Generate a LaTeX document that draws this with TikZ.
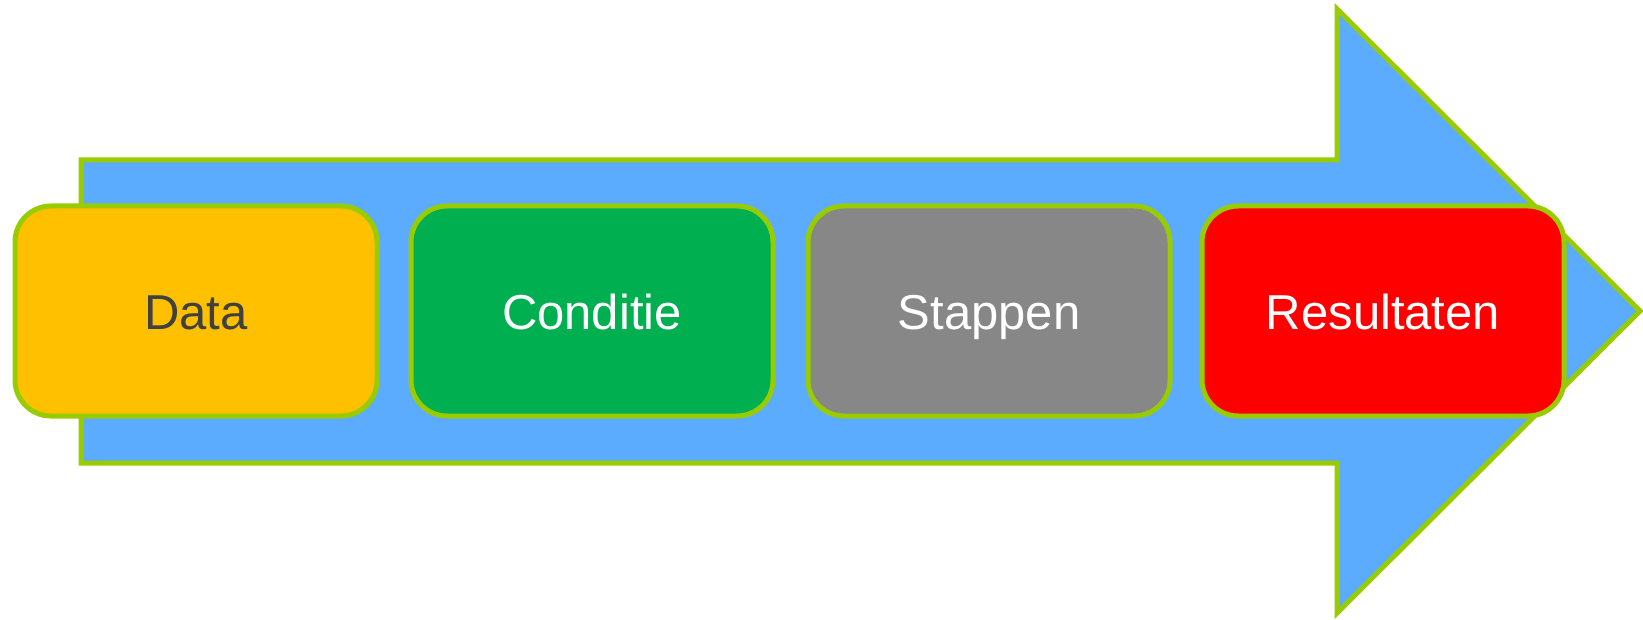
\documentclass[tikz,border=0pt]{standalone}
\usepackage{fontspec}
\setmainfont{Liberation Sans}
\definecolor{arrowblue}{RGB}{91,172,255}
\definecolor{edgegreen}{RGB}{153,204,0}
\definecolor{boxorange}{RGB}{255,192,0}
\definecolor{boxgreen}{RGB}{0,176,80}
\definecolor{boxgray}{RGB}{135,135,135}
\definecolor{boxred}{RGB}{255,0,0}
\definecolor{darktext}{RGB}{64,64,64}
\tikzset{
  stepbox/.style={draw=edgegreen, line width=5pt, rounded corners=36pt,
    minimum width=362pt, minimum height=210pt, inner sep=0pt,
    text height=36pt, text depth=0pt,
    font=\fontsize{49}{58}\selectfont, text=white},
}
\begin{document}
\begin{tikzpicture}[x=1pt,y=-1pt]
\useasboundingbox (0,0) rectangle (1643,620);
\draw[fill=arrowblue, draw=edgegreen, line width=5pt, line join=miter]
  (81,160) -- (1337,160) -- (1337,9) -- (1640,311) -- (1337,613) -- (1337,463) -- (81,463) -- cycle;
\node[stepbox, fill=boxorange, text=darktext] (data) at (196,311) {Data};
\node[stepbox, fill=boxgreen] (cond) at (592,311) {Conditie};
\node[stepbox, fill=boxgray] (stap) at (989,311) {Stappen};
\node[stepbox, fill=boxred] (res) at (1383,311) {Resultaten};
\end{tikzpicture}
\end{document}
